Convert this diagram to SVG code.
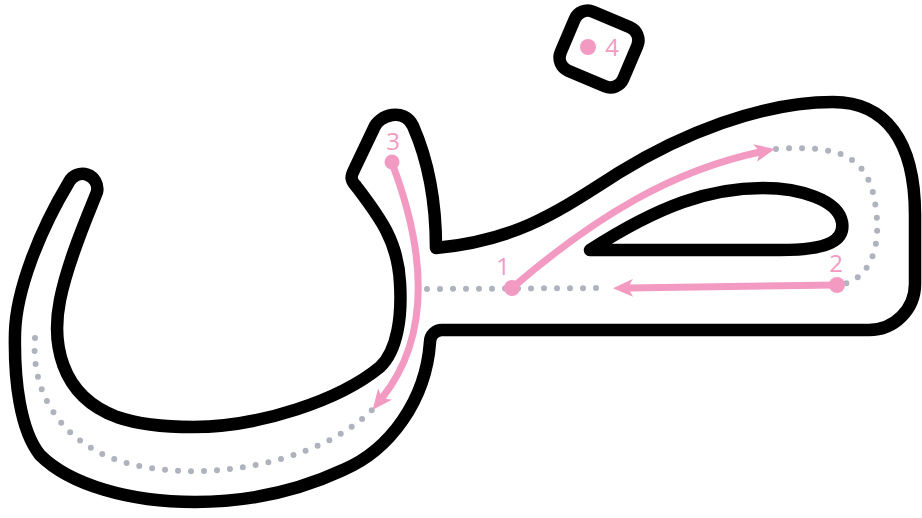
<svg xmlns="http://www.w3.org/2000/svg" width="922" height="518" viewBox="0 0 922 518">
<style>
.outline{fill:#fff;stroke:#000;stroke-width:12.5;stroke-linejoin:round;stroke-linecap:round}
.dots{fill:none;stroke:#aeb3bd;stroke-width:6;stroke-linecap:round;stroke-dasharray:0 13}
.arrow{fill:none;stroke:#f39ac3;stroke-width:7;marker-end:url(#ah)}
.dot{fill:#f39ac3}
.lbl{font-family:"Open Sans","Liberation Sans",sans-serif;font-size:24px;fill:#f39ac3;text-anchor:middle}
</style>
<defs>
<marker id="ah" markerUnits="userSpaceOnUse" markerWidth="20" markerHeight="18" viewBox="0 0 20 18" refX="5" refY="9" orient="auto">
<path d="M0,0 L20,9 L0,18 L5,9 Z" fill="#f39ac3"/>
</marker>
</defs>
<g id="letter">
<path class="outline" d="M69,182 A15,15 0 0 1 97,192 C88,215 68,260 60,300 C52,340 58,395 117,417 C140,425 165,427 193,427 C260,427 340,400 380,367 C398,350 402,315 400,283 C398,240 378,215 356,186 C350,180 351,176 354,170 L374,128 C379,115 404,107 413,126 C428,160 436,200 436,248 C520,240 560,210 620,172 C680,135 760,102 833,102 C885,102 915,140 915,215 L915,284 A46,46 0 0 1 869,330 L442,330 A12,12 0 0 0 430,342 C426,400 390,450 343,470 C300,490 250,502 195,502 C130,502 70,485 40,455 C20,430 14,380 15,333 C16,290 40,230 69,182 Z"/>
<path class="outline" d="M590,250 L780,250 C830,250 845,240 842,222 C838,200 800,188 763,188 C710,188 660,205 590,250 Z"/>
</g>
<g id="box">
<rect class="outline" x="-34" y="-32" width="68" height="64" rx="14" transform="translate(599,49) rotate(23)"/>
</g>
<g id="guides">
<path class="dots" d="M427,289 L607,288"/>
<path class="dots" d="M776,149 C840,145 870,155 876,210 C882,255 865,282 838,285"/>
<path class="dots" d="M35,338 C30,400 70,455 145,467 C230,482 330,455 375,407"/>
</g>
<g id="connectors">
<path class="arrow" d="M512,288 C598,214 675,170 760,152"/>
<path class="arrow" d="M837,285 L628,288"/>
<path class="arrow" d="M392,163 C425,250 432,335 382,398"/>
</g>
<g id="n1"><circle class="dot" cx="512" cy="288" r="8"/><text class="lbl" x="503" y="275">1</text></g>
<g id="n2"><circle class="dot" cx="837" cy="285" r="8"/><text class="lbl" x="836" y="272">2</text></g>
<g id="n3"><circle class="dot" cx="392" cy="162" r="7.5"/><text class="lbl" x="393" y="150">3</text></g>
<g id="n4"><circle class="dot" cx="588" cy="47" r="8"/><text class="lbl" x="612" y="56">4</text></g>
</svg>
